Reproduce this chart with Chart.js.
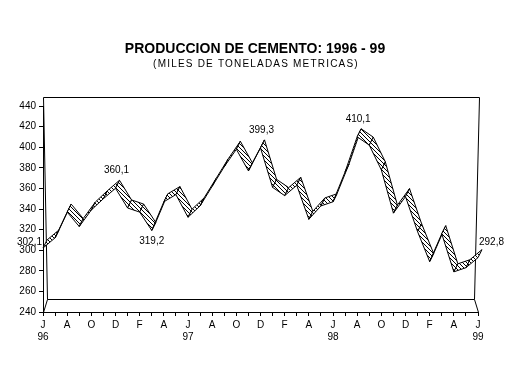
<!DOCTYPE html>
<html>
<head>
<meta charset="utf-8">
<script src="https://cdn.jsdelivr.net/npm/chart.js@4.4.0/dist/chart.umd.min.js"></script>
<style>
  html, body { margin: 0; padding: 0; background: #fff; }
</style>
</head>
<body>
<canvas id="grafico" width="513" height="372"></canvas>
<script>
// Meses de jun-96 a jun-99
const meses = ["J","J","A","S","O","N","D",
  "E","F","M","A","M","J","J","A","S","O","N","D",
  "E","F","M","A","M","J","J","A","S","O","N","D",
  "E","F","M","A","M","J"];
const anios = ["96", "97", "98", "99"];

// Produccion (miles de toneladas)
const produccion = [302.1, 312, 337, 323, 339, 350, 360.1,
  341, 337, 319.2, 347, 354, 332, 343, 362, 381, 398, 377, 399.3,
  361, 353, 363, 330, 343, 347, 376, 410.1, 402, 378, 336, 352,
  318, 289, 316, 279, 283, 292.8];

// Puntos con etiqueta de valor
const etiquetas = [0, 6, 9, 18, 26, 36];

const ejeY = { min: 240, max: 440, paso: 20 };

const fuente = '"Liberation Sans", Arial, sans-serif';

// patron rayado para la cinta
const pat = document.createElement("canvas");
pat.width = 4; pat.height = 4;
const pg = pat.getContext("2d");
pg.fillStyle = "#fff";
pg.fillRect(0, 0, 4, 4);
pg.fillStyle = "#000";
for (let i = 0; i < 4; i++) pg.fillRect(i, i, 1, 1);

const DX = 4, DY = -8;

const marco = {
  id: "marco",
  beforeDatasetsDraw(chart) {
    const { ctx, chartArea: a } = chart;
    const L = a.left + 0.5, R = a.right + 0.5, T = a.top + 0.5, B = a.bottom + 0.5;
    ctx.save();
    ctx.strokeStyle = "#000";
    ctx.lineWidth = 1;
    ctx.beginPath();
    ctx.moveTo(L, T - 9); ctx.lineTo(R + 1, T - 9);
    ctx.moveTo(L, T - 9); ctx.lineTo(L + 4, B - 13);
    ctx.moveTo(R + 1, T - 9); ctx.lineTo(R - 4, B - 13);
    ctx.moveTo(L + 4, B - 13); ctx.lineTo(R - 4, B - 13);
    ctx.moveTo(L, B); ctx.lineTo(L + 4, B - 13);
    ctx.moveTo(R, B); ctx.lineTo(R - 4, B - 13);
    ctx.stroke();
    ctx.restore();
  }
};

const cinta = {
  id: "cinta",
  afterDatasetsDraw(chart) {
    const ctx = chart.ctx;
    const pts = chart.getDatasetMeta(0).data;
    const relleno = ctx.createPattern(pat, "repeat");
    ctx.save();
    ctx.strokeStyle = "#000";
    ctx.lineWidth = 1;
    ctx.lineJoin = "round";
    for (let i = 0; i < pts.length - 1; i++) {
      const a = pts[i], b = pts[i + 1];
      ctx.beginPath();
      ctx.moveTo(a.x, a.y);
      ctx.lineTo(b.x, b.y);
      ctx.lineTo(b.x + DX, b.y + DY);
      ctx.lineTo(a.x + DX, a.y + DY);
      ctx.closePath();
      ctx.fillStyle = relleno;
      ctx.fill();
      ctx.stroke();
    }
    // etiquetas de valor
    ctx.fillStyle = "#000";
    ctx.font = "10px " + fuente;
    ctx.textBaseline = "middle";
    etiquetas.forEach(i => {
      const p = pts[i];
      const txt = produccion[i].toFixed(1).replace(".", ",");
      if (i === 0) {
        ctx.textAlign = "right";
        ctx.fillText(txt, p.x - 1, p.y - 6);
      } else if (i === pts.length - 1) {
        ctx.textAlign = "left";
        ctx.fillText(txt, p.x + 1, p.y - 15);
      } else if (produccion[i] > produccion[i - 1]) {
        ctx.textAlign = "center";
        ctx.fillText(txt, p.x + 1, p.y - 18);
      } else {
        ctx.textAlign = "center";
        ctx.fillText(txt, p.x, p.y + 11);
      }
    });
    ctx.restore();
  }
};

const titulos = {
  id: "titulos",
  afterDraw(chart) {
    const ctx = chart.ctx;
    ctx.save();
    ctx.fillStyle = "#000";
    ctx.textAlign = "center";
    ctx.textBaseline = "middle";
    ctx.font = "bold 14px " + fuente;
    ctx.fillText("PRODUCCION DE CEMENTO: 1996 - 99", 255, 49);
    ctx.font = "10px " + fuente;
    ctx.letterSpacing = "1.2px";
    ctx.fillText("(MILES DE TONELADAS METRICAS)", 256, 64);
    ctx.restore();
  }
};

new Chart(document.getElementById("grafico"), {
  type: "line",
  data: {
    labels: meses,
    datasets: [{
      data: produccion,
      borderColor: "rgba(0,0,0,0)",
      borderWidth: 0,
      pointRadius: 0,
      tension: 0
    }]
  },
  options: {
    responsive: false,
    animation: false,
    devicePixelRatio: 1,
    layout: { padding: { top: 106, right: 35, left: 0, bottom: 0 } },
    plugins: {
      legend: { display: false },
      tooltip: { enabled: false }
    },
    scales: {
      x: {
        offset: false,
        afterFit(s) { s.height = 60; },
        border: { color: "#000" },
        grid: { drawOnChartArea: false, color: "#000", tickLength: 4 },
        ticks: {
          autoSkip: false,
          maxRotation: 0,
          padding: 3,
          color: "#000",
          font: { size: 10, family: fuente },
          callback: (v, i) => {
            if (i % 2) return "";
            return i % 12 === 0 ? [meses[i], anios[i / 12]] : meses[i];
          }
        }
      },
      y: {
        min: ejeY.min,
        max: ejeY.max,
        afterFit(s) { s.width = 43; },
        border: { color: "#000" },
        grid: { drawOnChartArea: false, color: "#000", tickLength: 4 },
        ticks: {
          stepSize: ejeY.paso,
          padding: 3,
          color: "#000",
          font: { size: 10, family: fuente }
        }
      }
    }
  },
  plugins: [marco, cinta, titulos]
});
</script>
</body>
</html>
